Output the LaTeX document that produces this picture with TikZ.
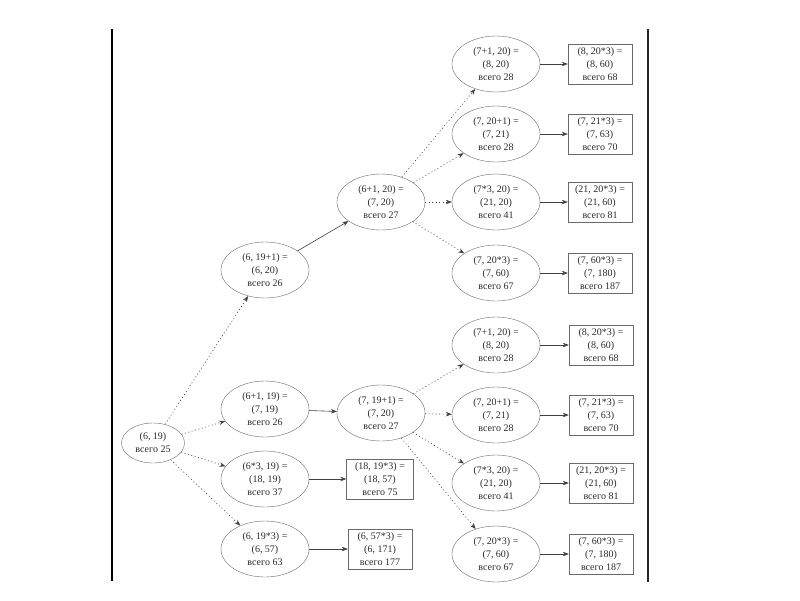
\documentclass[tikz,border=0pt]{standalone}
\usepackage{fontspec}
\setmainfont{Liberation Serif}
\usetikzlibrary{arrows.meta, shapes.geometric}
\definecolor{linegray}{HTML}{6A6A6A}
\definecolor{inkgray}{HTML}{2A2A2A}

\begin{document}
\begin{tikzpicture}[x=1pt, y=-1pt,
    state/.style={draw=linegray, ellipse, minimum width=#1, minimum height=56,
                  inner sep=0pt, align=center, text=inkgray,
                  font=\fontsize{10}{13}\selectfont},
    state/.default=88,
    total/.style={draw=linegray, rectangle, minimum width=#1, minimum height=40,
                  inner sep=0pt, align=center, text=inkgray,
                  font=\fontsize{10}{13}\selectfont},
    total/.default=64,
    go/.style={-{Stealth[length=6pt, width=4.5pt]}, linegray!60!black, semithick},
    try/.style={go, dash pattern=on 1pt off 2.5pt},
]
    \useasboundingbox (0,0) rectangle (800,600);

    % page edges
    \draw[line width=1.3pt] (112,29) -- (112,581);
    \draw[line width=2.6pt, black!85] (648,29) -- (648,582);

    % === start ===
    \node[state=63, minimum height=40] (n0) at (153,443) {(6, 19)\\всего 25};

    % === upper branch ===
    \node[state] (a1) at (265,270) {(6, 19+1) =\\(6, 20)\\всего 26};
    \node[state] (a2) at (381,202) {(6+1, 20) =\\(7, 20)\\всего 27};

    \node[state] (t1) at (496,64)  {(7+1, 20) =\\(8, 20)\\всего 28};
    \node[state] (t2) at (496,134) {(7, 20+1) =\\(7, 21)\\всего 28};
    \node[state] (t3) at (496,202) {(7*3, 20) =\\(21, 20)\\всего 41};
    \node[state] (t4) at (496,273) {(7, 20*3) =\\(7, 60)\\всего 67};

    \node[total] (tr1) at (600,64)  {(8, 20*3) =\\(8, 60)\\всего 68};
    \node[total] (tr2) at (600,134) {(7, 21*3) =\\(7, 63)\\всего 70};
    \node[total] (tr3) at (600,202) {(21, 20*3) =\\(21, 60)\\всего 81};
    \node[total] (tr4) at (600,273) {(7, 60*3) =\\(7, 180)\\всего 187};

    % === lower branch ===
    \node[state] (c1) at (265,409) {(6+1, 19) =\\(7, 19)\\всего 26};
    \node[state] (c2) at (265,479) {(6*3, 19) =\\(18, 19)\\всего 37};
    \node[state] (c3) at (265,549) {(6, 19*3) =\\(6, 57)\\всего 63};
    \node[state] (f)  at (381,413) {(7, 19+1) =\\(7, 20)\\всего 27};

    \node[total=67] (c2r) at (380,479) {(18, 19*3) =\\(18, 57)\\всего 75};
    \node[total]    (c3r) at (380,549) {(6, 57*3) =\\(6, 171)\\всего 177};

    \node[state] (b1) at (496,345) {(7+1, 20) =\\(8, 20)\\всего 28};
    \node[state] (b2) at (496,415) {(7, 20+1) =\\(7, 21)\\всего 28};
    \node[state] (b3) at (496,483) {(7*3, 20) =\\(21, 20)\\всего 41};
    \node[state] (b4) at (496,554) {(7, 20*3) =\\(7, 60)\\всего 67};

    \node[total] (br1) at (601,345) {(8, 20*3) =\\(8, 60)\\всего 68};
    \node[total] (br2) at (601,415) {(7, 21*3) =\\(7, 63)\\всего 70};
    \node[total] (br3) at (601,483) {(21, 20*3) =\\(21, 60)\\всего 81};
    \node[total] (br4) at (601,554) {(7, 60*3) =\\(7, 180)\\всего 187};

    % === edges ===
    \draw[try] (n0) -- (a1);
    \draw[try] (n0) -- (c1);
    \draw[try] (n0) -- (c2);
    \draw[try] (n0) -- (c3);

    \draw[go] (a1) -- (a2);
    \draw[try] (a2) -- (t1);
    \draw[try] (a2) -- (t2);
    \draw[try] (a2) -- (t3);
    \draw[try] (a2) -- (t4);
    \draw[go] (t1) -- (tr1);
    \draw[go] (t2) -- (tr2);
    \draw[go] (t3) -- (tr3);
    \draw[go] (t4) -- (tr4);

    \draw[go] (c1) -- (f);
    \draw[go] (c2) -- (c2r);
    \draw[go] (c3) -- (c3r);
    \draw[try] (f) -- (b1);
    \draw[try] (f) -- (b2);
    \draw[try] (f) -- (b3);
    \draw[try] (f) -- (b4);
    \draw[go] (b1) -- (br1);
    \draw[go] (b2) -- (br2);
    \draw[go] (b3) -- (br3);
    \draw[go] (b4) -- (br4);
\end{tikzpicture}
\end{document}
